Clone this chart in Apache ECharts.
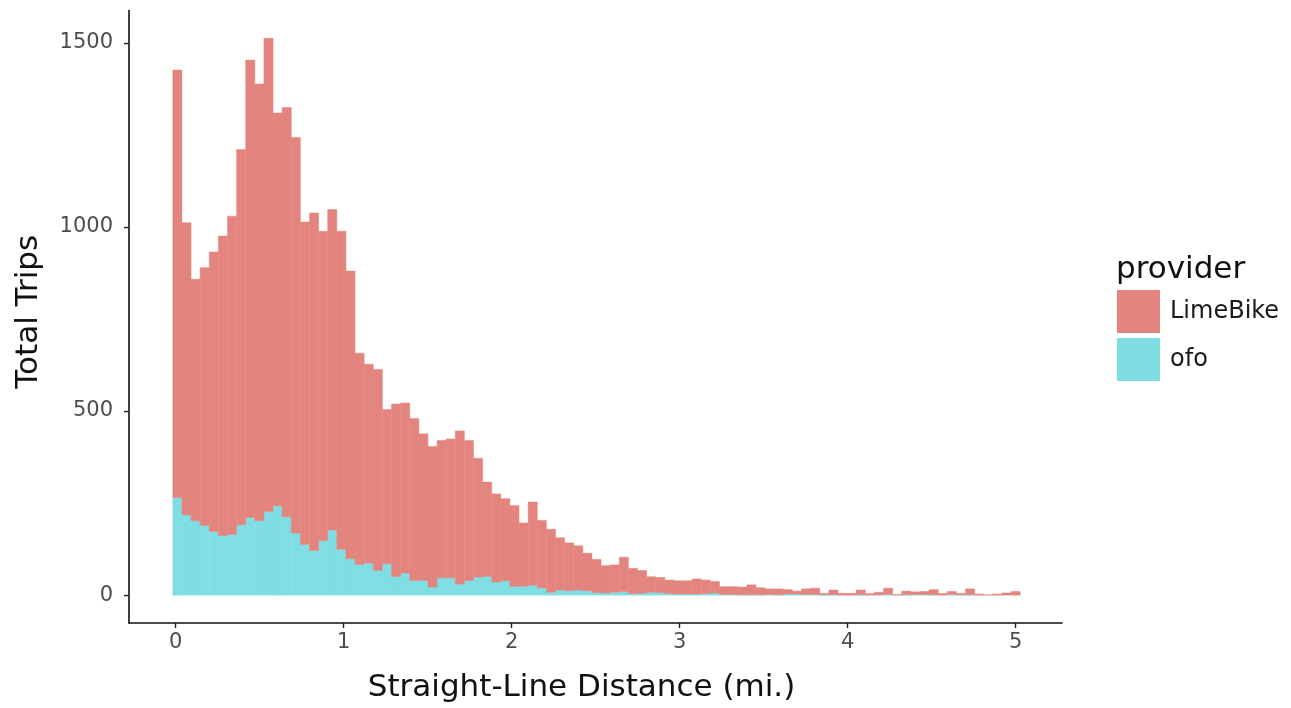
<!DOCTYPE html>
<html>
<head>
<meta charset="utf-8">
<script src="https://cdn.jsdelivr.net/npm/echarts@6/dist/echarts.min.js"></script>
<style>
html,body{margin:0;padding:0;background:#fff;}
#chart{width:1291px;height:708px;}
</style>
</head>
<body>
<div id="chart"></div>
<script>
// Histogram bins: 93 bins, first centred at 0.01 mi, last at 5.0 mi
const binStart = 0.01;
const binEnd = 5.0;
const binCount = 93;
const binWidth = (binEnd - binStart) / (binCount - 1);

// Trip counts per bin
const limeBike = [1161,793,656,700,759,813,864,1019,1242,1186,1285,1066,1111,1074,875,917,840,870,863,781,
  574,540,546,419,468,462,440,398,382,373,377,416,380,323,256,239,223,219,172,226,
  183,171,142,130,120,102,90,74,74,93,69,62,42,41,37,36,36,41,37,31,
  21,21,21,27,19,15,16,12,8,15,17,4,13,5,5,13,4,7,17,2,
  10,7,8,14,5,8,4,16,3,1,3,6,10];
const ofo = [265,218,202,189,173,162,165,191,211,202,227,243,213,169,138,121,148,177,125,99,
  83,87,67,85,51,60,40,40,22,47,47,30,40,49,51,36,39,24,24,27,
  20,8,14,12,14,12,7,6,8,10,4,5,8,7,4,3,3,3,4,6,
  2,2,1,1,1,2,1,3,3,2,2,1,1,0,0,1,0,1,2,0,
  1,2,2,1,0,2,1,1,0,0,0,0,0];

const providers = ['LimeBike', 'ofo'];
const xTicks = [0, 1, 2, 3, 4, 5];
const yTicks = [0, 500, 1000, 1500];

const binCenters = [];
for (let i = 0; i < binCount; i++) binCenters.push(binStart + i * binWidth);

const ofoData = binCenters.map((c, i) => [c, ofo[i], 0]);
const limeData = binCenters.map((c, i) => [c, limeBike[i], ofo[i]]);

const colors = {LimeBike: '#E3857E', ofo: '#7FDEE3'};

function makeRender(color) {
  return function (params, api) {
    const c = api.value(0), v = api.value(1), base = api.value(2);
    if (v <= 0) return null;
    const p0 = api.coord([c - binWidth / 2, base + v]);
    const p1 = api.coord([c + binWidth / 2, base]);
    return {
      type: 'rect',
      shape: {x: p0[0], y: p0[1], width: p1[0] - p0[0], height: p1[1] - p0[1]},
      style: {fill: color, stroke: color, lineWidth: 0.5}
    };
  };
}

const chart = echarts.init(document.getElementById('chart'), null, {renderer: 'canvas'});
const font = 'DejaVu Sans';
chart.setOption({
  animation: false,
  backgroundColor: '#ffffff',
  textStyle: {fontFamily: font},
  title: {
    text: 'provider', left: 1116, top: 254, padding: 0,
    textStyle: {fontFamily: font, fontSize: 31, fontWeight: 'normal', color: '#111'}
  },
  legend: {
    data: providers, orient: 'vertical', left: 1117, top: 290, padding: 0,
    icon: 'rect', itemWidth: 43, itemHeight: 43, itemGap: 5,
    textStyle: {fontFamily: font, fontSize: 24, color: '#1a1a1a', padding: [0, 0, 0, 5]}
  },
  grid: {left: 129, right: 229, top: 10.5, bottom: 81, containLabel: false},
  xAxis: {
    type: 'value', min: -0.278, max: 5.276,
    name: 'Straight-Line Distance (mi.)', nameLocation: 'middle', nameGap: 49,
    nameTextStyle: {fontFamily: font, fontSize: 31, color: '#111', padding: [0, 28, 0, 0]},
    axisLine: {show: true, onZero: false, lineStyle: {color: '#111', width: 1.6}},
    axisTick: {show: true, length: 5, lineStyle: {color: '#222', width: 1.4}, customValues: xTicks},
    axisLabel: {customValues: xTicks, fontFamily: font, fontSize: 21, color: '#4d4d4d', margin: 9,
      formatter: v => String(v)},
    splitLine: {show: false}
  },
  yAxis: {
    type: 'value', min: -75.6, max: 1587.6,
    name: 'Total Trips', nameLocation: 'middle', nameGap: 85, nameRotate: 90,
    nameTextStyle: {fontFamily: font, fontSize: 31, color: '#111', padding: [0, 0, 0, 10]},
    axisLine: {show: true, onZero: false, lineStyle: {color: '#111', width: 1.6}},
    axisTick: {show: true, length: 5, lineStyle: {color: '#222', width: 1.4}, customValues: yTicks},
    axisLabel: {customValues: yTicks, fontFamily: font, fontSize: 21, color: '#4d4d4d', margin: 16,
      formatter: v => String(v)},
    splitLine: {show: false}
  },
  series: [
    {name: 'ofo', type: 'custom', renderItem: makeRender(colors.ofo), data: ofoData,
      itemStyle: {color: colors.ofo}, encode: {x: 0, y: 1}, z: 2},
    {name: 'LimeBike', type: 'custom', renderItem: makeRender(colors.LimeBike), data: limeData,
      itemStyle: {color: colors.LimeBike}, encode: {x: 0, y: [1, 2]}, z: 2}
  ]
});
</script>
</body>
</html>
